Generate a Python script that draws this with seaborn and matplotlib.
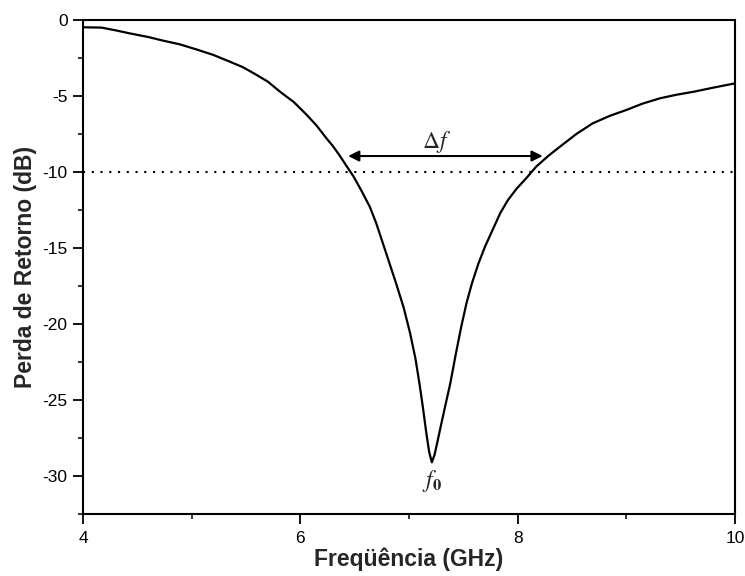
import matplotlib
matplotlib.use("Agg")
import matplotlib.pyplot as plt
import seaborn as sns
import pandas as pd

freq = [4.00, 4.17, 4.30, 4.43, 4.60, 4.75, 4.89, 5.05, 5.20, 5.35, 5.47, 5.57,
        5.70, 5.81, 5.94, 6.06, 6.15, 6.24, 6.30, 6.36, 6.42, 6.49, 6.56, 6.64,
        6.70, 6.76, 6.82, 6.88, 6.95, 7.01, 7.06, 7.10, 7.13, 7.16, 7.185, 7.21,
        7.235, 7.26, 7.29, 7.33, 7.38, 7.43, 7.48, 7.53, 7.58, 7.64, 7.70, 7.77,
        7.84, 7.91, 7.99, 8.08, 8.17, 8.28, 8.39, 8.54, 8.69, 8.85, 9.00, 9.15,
        9.31, 9.46, 9.62, 9.80, 10.00]
rl = [-0.48, -0.50, -0.68, -0.88, -1.12, -1.38, -1.60, -1.95, -2.30, -2.74, -3.10, -3.50,
      -4.05, -4.70, -5.40, -6.25, -6.95, -7.78, -8.30, -8.90, -9.55, -10.3, -11.2, -12.3,
      -13.4, -14.7, -16.0, -17.3, -18.9, -20.6, -22.3, -24.1, -25.6, -27.2, -28.4, -29.1,
      -28.6, -27.8, -26.8, -25.5, -23.9, -22.0, -20.2, -18.6, -17.3, -16.0, -14.9, -13.8,
      -12.7, -11.85, -11.1, -10.4, -9.65, -8.95, -8.33, -7.50, -6.80, -6.30, -5.92, -5.50,
      -5.15, -4.92, -4.72, -4.45, -4.17]
xticks = [4, 6, 8, 10]
yticks = [0, -5, -10, -15, -20, -25, -30]
threshold = -10
bw_lo, bw_hi = 6.44, 8.23
f0 = 7.21

sns.set_theme(style="ticks")
plt.rcParams['font.family'] = ['Liberation Sans', 'DejaVu Sans']
plt.rcParams['mathtext.fontset'] = 'stix'

fig = plt.figure(figsize=(7.45, 5.76), dpi=100)
ax = fig.add_axes([0.1114, 0.1076, 0.8752, 0.8577])

df = pd.DataFrame({"Freq": freq, "RL": rl})
sns.lineplot(data=df, x="Freq", y="RL", ax=ax, color="black", lw=1.6,
             sort=False, estimator=None)
ax.axhline(threshold, color="black", lw=1.5, linestyle=(0, (1, 3.2)))

ax.annotate("", xy=(bw_lo, -8.95), xytext=(bw_hi, -8.95),
            arrowprops=dict(arrowstyle="<|-|>", color="black", lw=1.5,
                            mutation_scale=16, shrinkA=0, shrinkB=0))
ax.text((bw_lo + bw_hi) / 2 - 0.08, -8.85, r"$\Delta\mathit{f}$", ha="center", va="bottom",
        fontsize=17)
ax.text(f0 + 0.0, -29.5, r"$\mathit{f}_{\mathbf{0}}$", ha="center", va="top", fontsize=17)

ax.set_xlim(4, 10)
ax.set_ylim(-32.5, 0)
ax.set_xticks(xticks)
ax.set_yticks(yticks)
ax.set_xticklabels([str(v) for v in xticks])
ax.set_yticklabels([str(v) for v in yticks])
ax.set_xticks([5, 7, 9], minor=True)
ax.set_yticks([-2.5, -7.5, -12.5, -17.5, -22.5, -27.5, -32.5], minor=True)
ax.tick_params(which="major", direction="out", length=7, width=1.3, labelsize=12.5,
               colors="black", top=False, right=False)
ax.tick_params(axis="x", which="major", pad=5)
ax.tick_params(axis="y", which="major", pad=4)
ax.tick_params(which="minor", direction="out", length=3.6, width=1.3,
               top=False, right=False)
for s in ax.spines.values():
    s.set_visible(True)
    s.set_linewidth(1.5)
    s.set_color("black")

ax.set_xlabel("Freqüência (GHz)", fontsize=16.5, fontweight="bold", labelpad=1)
ax.set_ylabel("Perda de Retorno (dB)", fontsize=16.5, fontweight="bold", labelpad=4)

fig.savefig("out.png", dpi=100)
